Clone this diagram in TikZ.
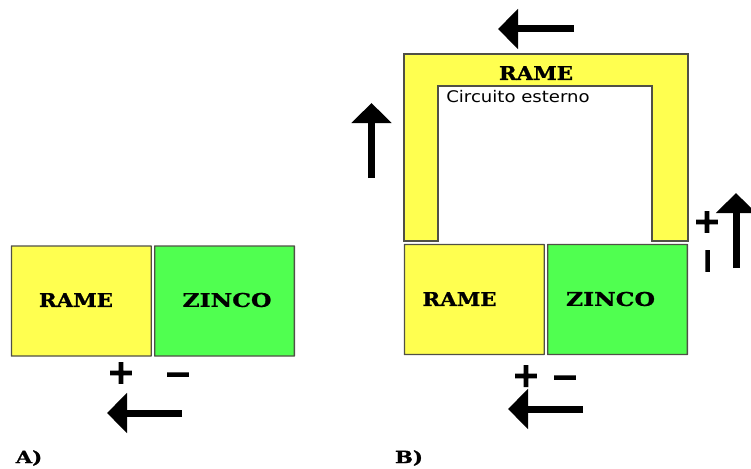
\documentclass[tikz,border=0pt]{standalone}
\usepackage{fontspec}
\setmainfont[BoldFeatures={FakeBold=0.8}]{DejaVu Serif}
\setsansfont{DejaVu Sans}
\newfontfamily\signfont[FakeBold=6]{DejaVu Sans}
\usetikzlibrary{arrows.meta}
\definecolor{rameyel}{RGB}{255,255,80}
\definecolor{zincogrn}{RGB}{80,255,80}
\definecolor{edgegry}{RGB}{80,80,70}

\begin{document}
\begin{tikzpicture}[x=1pt,y=-1pt,
	plate/.style={draw=edgegry,line width=1.3pt,rounded corners=0.2pt,inner sep=0,minimum width=139.7pt,minimum height=110pt},
	rame/.style={plate,fill=rameyel},
	zinco/.style={plate,fill=zincogrn},
	metal/.style={font=\bfseries\fontsize{19}{19}\selectfont,xscale=1.12,inner sep=0},
	wide/.style={font=\bfseries\fontsize{19}{19}\selectfont,xscale=1.24,inner sep=0},
	tag/.style={font=\bfseries\fontsize{17}{17}\selectfont,xscale=1.25,inner sep=0},
	sign/.style={font=\signfont\fontsize{32}{32}\selectfont,inner sep=0},
	flow/.style={line width=7pt,-{Triangle[length=20pt,width=39pt]}}]
	\useasboundingbox (0,0) rectangle (751,468);
	\node [rame] (ra) at (81.3,301) {};
	\node [zinco] (za) at (224.5,301) {};
	\node [metal] (la) at (76,300) {RAME};
	\node [wide] (lb) at (227,300) {ZINCO};
	\node [sign] (pa) at (121,373) {+};
	\node [sign] (ma) at (178,379) {−};
	\coordinate (a0) at (182,413);
	\coordinate (a1) at (107,413);
	\draw [flow] (a0) -- (a1);
	\node [tag] (ta) at (29,458) {A)};

	\draw [draw=edgegry,line width=1.3pt,fill=rameyel] (404,241) -- (404,54) -- (688,54) -- (688,241) -- (652,241) -- (652,86) -- (438,86) -- (438,241) -- cycle;
	\node [metal] (lc) at (536,73) {RAME};
	\node [font=\sffamily\fontsize{16}{16}\selectfont,xscale=1.13,inner sep=0] (ce) at (518,97) {Circuito esterno};
	\node [rame] (rb) at (474.3,299.5) {};
	\node [zinco] (zb) at (617.5,299.5) {};
	\node [metal] (ld) at (459.5,299) {RAME};
	\node [wide] (le) at (610.5,299) {ZINCO};
	\node [sign] (pb) at (526,376) {+};
	\node [sign] (mb) at (565,382) {−};
	\node [sign] (pc) at (707,222) {+};
	\node [sign,rotate=90] (mc) at (712,261) {−};
	\coordinate (b0) at (583,409);
	\coordinate (b1) at (508,409);
	\coordinate (c0) at (574,29);
	\coordinate (c1) at (498,29);
	\coordinate (d0) at (371.5,178);
	\coordinate (d1) at (371.5,103);
	\coordinate (e0) at (736,268);
	\coordinate (e1) at (736,193);
	\draw [flow] (b0) -- (b1);
	\draw [flow] (c0) -- (c1);
	\draw [flow] (d0) -- (d1);
	\draw [flow] (e0) -- (e1);
	\node [tag] (tb) at (409,458) {B)};
\end{tikzpicture}
\end{document}
